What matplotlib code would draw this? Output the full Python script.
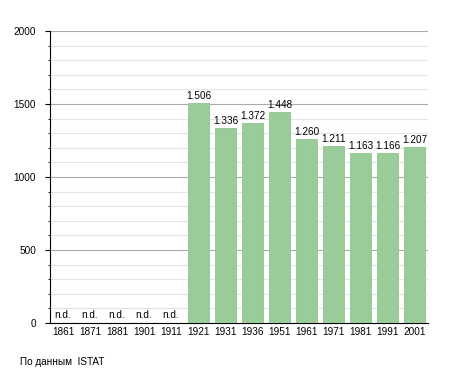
import matplotlib
matplotlib.use("Agg")
import matplotlib.pyplot as plt
from matplotlib.ticker import MultipleLocator

plt.rcParams["font.family"] = ["Liberation Sans", "DejaVu Sans"]

years = ["1861", "1871", "1881", "1901", "1911", "1921", "1931", "1936",
         "1951", "1961", "1971", "1981", "1991", "2001"]
population = [None, None, None, None, None, 1506, 1336, 1372, 1448,
              1260, 1211, 1163, 1166, 1207]
labels = ["n.d.", "n.d.", "n.d.", "n.d.", "n.d.", "1.506", "1.336", "1.372",
          "1.448", "1.260", "1.211", "1.163", "1.166", "1.207"]

fig = plt.figure(figsize=(4.55, 3.73), dpi=100)
ax = fig.add_axes([0.110, 0.134, 0.831, 0.783])

x = list(range(len(years)))
vals = [v if v is not None else 0 for v in population]
ax.bar(x, vals, width=0.78, color="#99cc99", edgecolor="#90c690", linewidth=0.6, zorder=3)

for i, (v, lab) in enumerate(zip(population, labels)):
    if v is None:
        ax.text(i - 0.05, 22, lab, ha="center", va="bottom", fontsize=7.2, zorder=4)
    else:
        ax.text(i, v + 12, lab, ha="center", va="bottom", fontsize=7.2, zorder=4)

ax.set_xlim(-0.5, len(years) - 0.5)
ax.set_ylim(0, 2000)
ax.set_xticks(x)
ax.set_xticklabels(years, fontsize=7.2)
ax.tick_params(axis="x", length=0, pad=3)
ax.yaxis.set_major_locator(MultipleLocator(500))
ax.yaxis.set_minor_locator(MultipleLocator(100))
ax.tick_params(axis="y", which="major", length=3.6, labelsize=7.2, pad=6.5)
ax.tick_params(axis="y", which="minor", length=1.5)
ax.grid(axis="y", which="major", color="#aaaaaa", linewidth=0.8, zorder=0)
ax.grid(axis="y", which="minor", color="#e4e4e4", linewidth=0.8, zorder=0)
for s in ["top", "right"]:
    ax.spines[s].set_visible(False)

fig.text(20 / 455, 1 - 362 / 373, "По данным  ISTAT", fontsize=7.2, va="center", ha="left")

fig.savefig("out.png", dpi=100)
